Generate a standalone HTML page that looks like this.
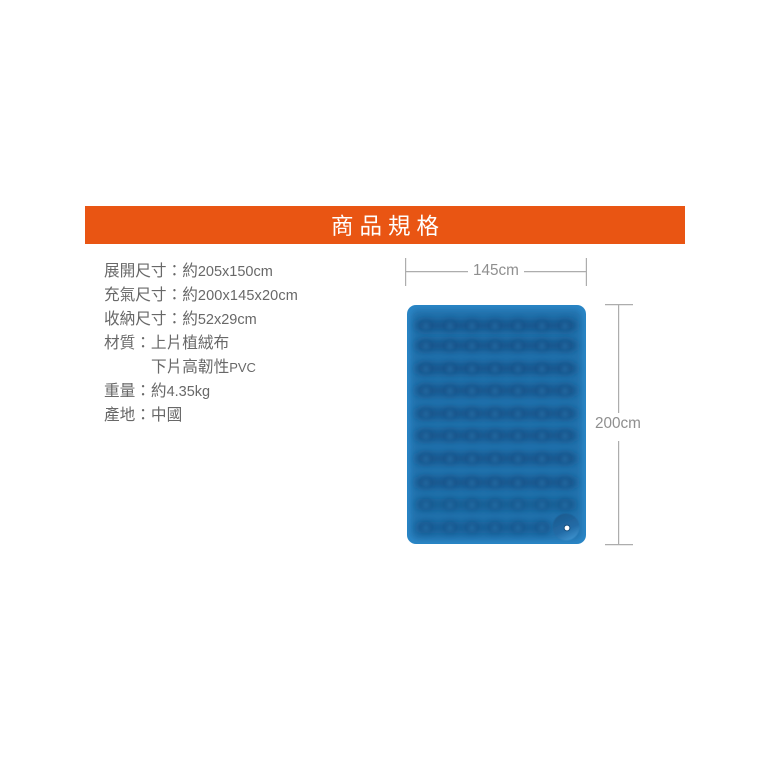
<!DOCTYPE html>
<html><head><meta charset="utf-8">
<style>
html,body{margin:0;padding:0;background:#fff}
#p{position:relative;width:770px;height:770px;overflow:hidden;background:#fff;font-family:"Liberation Sans","Noto Sans CJK TC",sans-serif}
.t{position:absolute;left:104px;white-space:nowrap;font-size:14.5px;line-height:20px;color:#686868}
.c{font-size:15.65px;}
.d{position:absolute;font-size:15.3px;line-height:18px;color:#8f8f8f;white-space:nowrap}
</style></head><body>
<div id="p">
<div style="position:absolute;left:85px;top:206px;width:600px;height:38px;background:#e95513"></div>
<div style="position:absolute;left:331px;top:210px;font-size:22.5px;line-height:30px;letter-spacing:6px;color:#fff;white-space:nowrap;font-family:'Noto Sans CJK TC',sans-serif">商品規格</div>
<div class="t" style="top:262px"><span class="c">展開尺寸：約</span>205x150cm</div>
<div class="t" style="top:286px"><span class="c">充氣尺寸：約</span><span style="letter-spacing:.15px">200x145x20cm</span></div>
<div class="t" style="top:310px"><span class="c">收納尺寸：約</span>52x29cm</div>
<div class="t" style="top:334px"><span class="c">材質：上片植絨布</span></div>
<div class="t" style="top:358px;left:151px"><span class="c">下片高韌性</span><span style="font-size:13px">PVC</span></div>
<div class="t" style="top:382px"><span class="c">重量：約</span>4.35kg</div>
<div class="t" style="top:406px"><span class="c">產地：中國</span></div>
<div class="d" style="left:473px;top:262px">145cm</div>
<div class="d" style="left:595px;top:415px">200cm</div>
<svg style="position:absolute;left:0;top:0" width="770" height="770" viewBox="0 0 770 770">
<defs>
<filter id="b0" x="-20%" y="-100%" width="140%" height="300%"><feGaussianBlur stdDeviation="3.6"/></filter>
<filter id="b1" x="-20%" y="-20%" width="140%" height="140%"><feGaussianBlur stdDeviation="3"/></filter>
<filter id="b2" x="-10%" y="-10%" width="120%" height="120%"><feGaussianBlur stdDeviation="2.6"/></filter>
<filter id="b4" x="-10%" y="-10%" width="120%" height="120%"><feGaussianBlur stdDeviation="1.8"/></filter>
<filter id="b3" x="-30%" y="-30%" width="160%" height="160%"><feGaussianBlur stdDeviation=".6"/></filter>
<clipPath id="cp"><rect x="407" y="305" width="179" height="239" rx="9"/></clipPath>
<linearGradient id="v" x1=".25" y1="0" x2=".7" y2="1"><stop offset="0" stop-color="#1c5a8e"/><stop offset=".6" stop-color="#226ba6"/><stop offset="1" stop-color="#3e93cf"/></linearGradient>
<g id="darkR">
<ellipse cx="426" cy="0" rx="8" ry="7"/><ellipse cx="450" cy="0" rx="8" ry="7"/><ellipse cx="472" cy="0" rx="8" ry="7"/><ellipse cx="495" cy="0" rx="8" ry="7"/><ellipse cx="518" cy="0" rx="8" ry="7"/><ellipse cx="542" cy="0" rx="8" ry="7"/><ellipse cx="565" cy="0" rx="8" ry="7"/>
</g>
<g id="lightR">
<circle cx="426" cy="0" r="3.4"/><circle cx="450" cy="0" r="3.4"/><circle cx="472" cy="0" r="3.4"/><circle cx="495" cy="0" r="3.4"/><circle cx="518" cy="0" r="3.4"/><circle cx="542" cy="0" r="3.4"/><circle cx="565" cy="0" r="3.4"/>
</g>
</defs>
<g stroke="#adadad" stroke-width="1.2" fill="none">
<path d="M405.6 258V286M406 271.6H468M524 271.6H586M586.4 258V286M605 304.6H633M618.6 305V413M618.6 441V544M605 544.6H633"/>
</g>
<g clip-path="url(#cp)">
<rect x="407" y="305" width="179" height="239" fill="#2b86c6"/>
<rect x="411" y="309" width="171" height="231" rx="8" fill="#2172ad" filter="url(#b1)"/>
<g filter="url(#b0)" fill="#14558b" opacity=".9">
<rect x="415" y="320" width="162" height="11" rx="5"/>
<rect x="415" y="340" width="162" height="11" rx="5"/>
<rect x="415" y="363" width="162" height="11" rx="5"/>
<rect x="415" y="385" width="162" height="11" rx="5"/>
<rect x="415" y="408" width="162" height="11" rx="5"/>
<rect x="415" y="430" width="162" height="11" rx="5"/>
<rect x="415" y="453" width="162" height="11" rx="5"/>
<rect x="415" y="477" width="162" height="11" rx="5"/>
<rect x="415" y="499" width="162" height="11" rx="5" opacity=".75"/>
<rect x="415" y="522" width="136" height="11" rx="5" opacity=".7"/>
</g>
<g filter="url(#b2)" fill="#124c80" opacity=".35">
<use href="#darkR" y="325"/><use href="#darkR" y="345"/><use href="#darkR" y="368"/><use href="#darkR" y="390"/><use href="#darkR" y="413"/><use href="#darkR" y="435"/><use href="#darkR" y="458"/><use href="#darkR" y="482"/><use href="#darkR" y="504"/><use href="#darkR" y="527"/>
</g>
<g filter="url(#b4)" fill="#2c78b0" opacity=".5">
<use href="#lightR" y="326"/><use href="#lightR" y="346"/><use href="#lightR" y="369"/><use href="#lightR" y="391"/><use href="#lightR" y="414"/><use href="#lightR" y="436"/><use href="#lightR" y="459"/><use href="#lightR" y="483"/><use href="#lightR" y="505"/><use href="#lightR" y="528"/>
</g>
<circle cx="566" cy="527" r="13.5" fill="url(#v)" filter="url(#b3)"/>
<circle cx="567" cy="528" r="3.4" fill="#123f66" opacity=".6"/>
<circle cx="567" cy="528" r="2.4" fill="#fff"/>
</g>
</svg>
</div>
</body></html>
